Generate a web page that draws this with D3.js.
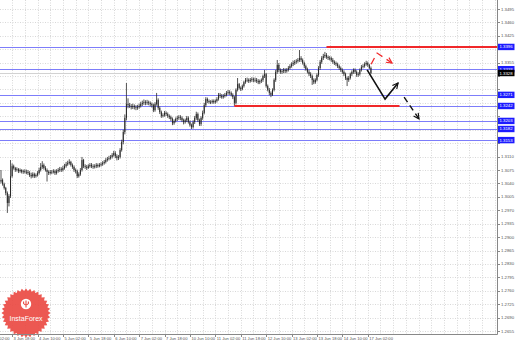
<!DOCTYPE html>
<html>
<head>
<meta charset="utf-8">
<script src="https://cdn.jsdelivr.net/npm/d3@7"></script>
<style>
  body { margin: 0; background: #fff; }
  svg { display: block; }
  text { font-family: "Liberation Sans", Arial, sans-serif; }
</style>
</head>
<body>
<script>
// H1 bars, 3 Jun 11:00 .. 17 Jun 04:00 (weekend skipped)
const firstOpen = 1.3045;
const closes = [
  1.3049,1.3038,1.3028,1.3015,1.2989,1.3007,1.3059,1.3085,1.3080,1.3075,1.3077,1.3072,1.3075,1.3070,1.3072,1.3070,
  1.3070,1.3067,1.3062,1.3059,1.3064,1.3059,1.3062,1.3067,1.3075,1.3083,1.3088,1.3080,1.3075,1.3070,1.3067,1.3070,
  1.3070,1.3072,1.3067,1.3072,1.3075,1.3077,1.3075,1.3080,1.3085,1.3090,1.3093,1.3096,1.3088,1.3083,1.3075,1.3072,
  1.3059,1.3064,1.3075,1.3101,1.3085,1.3083,1.3080,1.3085,1.3088,1.3085,1.3083,1.3085,1.3088,1.3085,1.3088,1.3090,
  1.3093,1.3096,1.3101,1.3104,1.3106,1.3109,1.3114,1.3119,1.3111,1.3106,1.3109,1.3127,1.3148,1.3174,1.3211,1.3247,
  1.3244,1.3242,1.3239,1.3242,1.3239,1.3237,1.3239,1.3242,1.3247,1.3250,1.3252,1.3250,1.3252,1.3250,1.3247,1.3244,
  1.3231,1.3247,1.3258,1.3237,1.3226,1.3216,1.3218,1.3224,1.3221,1.3216,1.3213,1.3208,1.3197,1.3203,1.3208,1.3211,
  1.3213,1.3211,1.3205,1.3200,1.3205,1.3211,1.3200,1.3192,1.3187,1.3200,1.3211,1.3221,1.3205,1.3195,1.3211,1.3224,
  1.3244,1.3260,1.3255,1.3252,1.3252,1.3255,1.3252,1.3255,1.3260,1.3271,1.3268,1.3265,1.3268,1.3271,1.3276,1.3278,
  1.3276,1.3271,1.3265,1.3250,1.3284,1.3299,1.3289,1.3286,1.3294,1.3304,1.3310,1.3310,1.3307,1.3310,1.3312,1.3310,
  1.3310,1.3307,1.3304,1.3307,1.3310,1.3320,1.3325,1.3294,1.3284,1.3276,1.3271,1.3284,1.3310,1.3331,1.3349,1.3336,
  1.3331,1.3333,1.3336,1.3333,1.3336,1.3341,1.3346,1.3351,1.3354,1.3357,1.3359,1.3362,1.3367,1.3362,1.3354,1.3346,
  1.3338,1.3331,1.3325,1.3320,1.3310,1.3304,1.3310,1.3323,1.3341,1.3357,1.3367,1.3372,1.3375,1.3370,1.3367,1.3367,
  1.3362,1.3357,1.3354,1.3351,1.3346,1.3341,1.3336,1.3331,1.3325,1.3315,1.3310,1.3315,1.3325,1.3331,1.3336,1.3331,
  1.3323,1.3325,1.3336,1.3344,1.3346,1.3351,1.3354,1.3349,1.3341,1.3328
];
const highs = [
  1.3075,1.3053,1.3042,1.3031,1.3019,1.3012,1.3101,1.3092,1.3089,1.3083,1.3082,1.3080,1.3079,1.3077,1.3076,1.3077,
  1.3076,1.3075,1.3072,1.3068,1.3069,1.3068,1.3066,1.3072,1.3081,1.3093,1.3098,1.3092,1.3085,1.3079,1.3074,1.3075,
  1.3075,1.3077,1.3076,1.3077,1.3080,1.3083,1.3082,1.3086,1.3091,1.3096,1.3099,1.3103,1.3099,1.3092,1.3087,1.3079,
  1.3076,1.3069,1.3080,1.3109,1.3104,1.3090,1.3088,1.3090,1.3093,1.3093,1.3090,1.3090,1.3093,1.3092,1.3093,1.3095,
  1.3098,1.3101,1.3106,1.3109,1.3112,1.3114,1.3119,1.3125,1.3124,1.3116,1.3114,1.3132,1.3154,1.3180,1.3220,1.3302,
  1.3262,1.3250,1.3247,1.3248,1.3246,1.3244,1.3245,1.3248,1.3253,1.3256,1.3259,1.3257,1.3258,1.3256,1.3254,1.3251,
  1.3248,1.3252,1.3276,1.3262,1.3241,1.3230,1.3223,1.3229,1.3228,1.3225,1.3220,1.3217,1.3212,1.3207,1.3212,1.3216,
  1.3218,1.3218,1.3215,1.3209,1.3209,1.3216,1.3215,1.3204,1.3196,1.3205,1.3216,1.3227,1.3225,1.3209,1.3215,1.3230,
  1.3250,1.3265,1.3264,1.3259,1.3257,1.3259,1.3259,1.3259,1.3265,1.3276,1.3276,1.3273,1.3273,1.3276,1.3281,1.3284,
  1.3283,1.3280,1.3275,1.3268,1.3288,1.3315,1.3302,1.3293,1.3298,1.3308,1.3315,1.3316,1.3314,1.3315,1.3317,1.3316,
  1.3316,1.3315,1.3312,1.3311,1.3314,1.3324,1.3336,1.3328,1.3298,1.3289,1.3280,1.3288,1.3314,1.3336,1.3362,1.3354,
  1.3340,1.3338,1.3341,1.3340,1.3341,1.3346,1.3351,1.3356,1.3360,1.3362,1.3364,1.3367,1.3388,1.3372,1.3366,1.3358,
  1.3350,1.3342,1.3336,1.3330,1.3324,1.3314,1.3314,1.3327,1.3346,1.3362,1.3372,1.3378,1.3383,1.3380,1.3374,1.3372,
  1.3371,1.3367,1.3361,1.3358,1.3355,1.3350,1.3345,1.3340,1.3335,1.3329,1.3319,1.3320,1.3329,1.3335,1.3340,1.3340,
  1.3335,1.3330,1.3340,1.3349,1.3351,1.3356,1.3360,1.3358,1.3352,1.3345
];
const lows = [
  1.3040,1.3034,1.3024,1.3009,1.2963,1.2980,1.3002,1.3055,1.3076,1.3070,1.3071,1.3067,1.3068,1.3066,1.3065,1.3066,
  1.3064,1.3062,1.3057,1.3053,1.3055,1.3054,1.3055,1.3058,1.3063,1.3071,1.3078,1.3076,1.3071,1.3045,1.3062,1.3063,
  1.3064,1.3066,1.3062,1.3063,1.3068,1.3070,1.3070,1.3071,1.3076,1.3081,1.3086,1.3089,1.3084,1.3078,1.3070,1.3066,
  1.3054,1.3055,1.3060,1.3071,1.3080,1.3078,1.3075,1.3078,1.3081,1.3080,1.3078,1.3079,1.3080,1.3081,1.3082,1.3084,
  1.3086,1.3089,1.3092,1.3097,1.3100,1.3102,1.3105,1.3110,1.3106,1.3100,1.3101,1.3105,1.3123,1.3142,1.3168,1.3205,
  1.3236,1.3237,1.3233,1.3234,1.3233,1.3231,1.3232,1.3235,1.3238,1.3242,1.3245,1.3244,1.3245,1.3244,1.3241,1.3238,
  1.3226,1.3227,1.3243,1.3232,1.3221,1.3211,1.3212,1.3214,1.3216,1.3211,1.3208,1.3203,1.3192,1.3193,1.3199,1.3203,
  1.3206,1.3205,1.3200,1.3194,1.3196,1.3200,1.3196,1.3188,1.3182,1.3183,1.3195,1.3206,1.3200,1.3190,1.3190,1.3206,
  1.3220,1.3239,1.3250,1.3248,1.3247,1.3248,1.3248,1.3248,1.3251,1.3256,1.3263,1.3261,1.3261,1.3264,1.3267,1.3271,
  1.3271,1.3267,1.3260,1.3242,1.3246,1.3280,1.3285,1.3281,1.3283,1.3290,1.3300,1.3304,1.3302,1.3303,1.3305,1.3304,
  1.3304,1.3302,1.3299,1.3299,1.3302,1.3305,1.3315,1.3290,1.3280,1.3270,1.3265,1.3268,1.3280,1.3305,1.3326,1.3330,
  1.3326,1.3326,1.3328,1.3328,1.3329,1.3332,1.3337,1.3342,1.3346,1.3349,1.3352,1.3355,1.3357,1.3357,1.3350,1.3341,
  1.3334,1.3327,1.3320,1.3315,1.3297,1.3299,1.3300,1.3306,1.3318,1.3336,1.3352,1.3362,1.3367,1.3365,1.3362,1.3361,
  1.3357,1.3352,1.3349,1.3346,1.3341,1.3336,1.3331,1.3326,1.3320,1.3310,1.3294,1.3305,1.3311,1.3320,1.3326,1.3326,
  1.3318,1.3318,1.3321,1.3332,1.3340,1.3342,1.3347,1.3344,1.3338,1.3325
];

const timeLabels = ["3 Jun 02:00","3 Jun 18:00","4 Jun 10:00","5 Jun 02:00","5 Jun 18:00","6 Jun 10:00",
  "7 Jun 02:00","7 Jun 18:00","10 Jun 10:00","11 Jun 02:00","11 Jun 18:00","12 Jun 10:00",
  "13 Jun 02:00","13 Jun 18:00","14 Jun 10:00","17 Jun 02:00"];
const timeLabelBars = [-9,7,23,39,55,71,87,103,119,135,151,167,183,199,215,231];

const priceTicks = [1.3495,1.3460,1.3425,1.3390,1.3355,1.3320,1.3285,1.3250,1.3215,1.3180,1.3145,1.3110,
  1.3075,1.3040,1.3005,1.2970,1.2935,1.2900,1.2865,1.2830,1.2795,1.2760,1.2725,1.2690,1.2655];

// horizontal support / resistance levels
const blueLevels = [1.3396, 1.3338, 1.3271, 1.3242, 1.3203, 1.3182, 1.3153];
const bidPrice = 1.3328;
const redLines = [
  { from: 205, to: 320, price: 1.3396 },
  { from: 147, to: 251, price: 1.3242 }
];
// forecast arrows [bar, price]
const redArrow = [[233.1, 1.3351], [236.9, 1.3380], [246.3, 1.3354]];
const blackArrow = [[230.6, 1.3336], [241.9, 1.3260], [250.1, 1.3302]];
const blackDashArrow = [[253.9, 1.3265], [263.3, 1.3208]];

const W = 518, H = 342;
const plotR = 497, plotB = 334;

const svg = d3.select("body").append("svg").attr("width", W).attr("height", H);
svg.append("rect").attr("width", W).attr("height", H).attr("fill", "#fff");

const x = d3.scaleLinear().domain([-0.63, 312.4]).range([0, plotR]);
const y = d3.scaleLinear().domain([1.2655, 1.3495]).range([331, 9]);
const snap = v => Math.round(v) + 0.5;

// grid
const grid = svg.append("g").attr("stroke", "#d8d8d8").attr("stroke-dasharray", "1,1.5").attr("stroke-width", 1);
grid.selectAll(".vg").data(d3.range(-1, 312, 8)).enter().append("line")
  .attr("x1", d => snap(x(d))).attr("x2", d => snap(x(d)))
  .attr("y1", 0).attr("y2", plotB);
grid.selectAll(".hg").data(priceTicks).enter().append("line")
  .attr("x1", 0).attr("x2", plotR)
  .attr("y1", d => snap(y(d))).attr("y2", d => snap(y(d)));

// logo watermark
const logo = svg.append("g").attr("transform", "translate(26,313)");
const star = d3.range(72).map(k => {
  const a = k * Math.PI / 36, r = k % 2 ? 22 : 24.5;
  return [r * Math.sin(a), -r * Math.cos(a)];
});
logo.append("path").attr("d", "M" + star.join("L") + "Z").attr("fill", "#ea4a43").attr("opacity", 0.92);
logo.append("circle").attr("cx", 0).attr("cy", -9).attr("r", 5.2).attr("fill", "#fff");
logo.append("path").attr("d", "M-2.4,-11.5 L-2.4,-9.5 Q0,-6.5 2.4,-9.5 L2.4,-11.5 M0,-12.5 L0,-5.5")
  .attr("stroke", "#ea4a43").attr("stroke-width", 1.1).attr("fill", "none");
logo.append("text").attr("x", 0).attr("y", 8).attr("text-anchor", "middle")
  .attr("font-size", 7).attr("fill", "#fff").text("InstaForex");

// levels
svg.selectAll(".lvl").data(blueLevels).enter().append("line")
  .attr("x1", 0).attr("x2", plotR)
  .attr("y1", d => snap(y(d))).attr("y2", d => snap(y(d)))
  .attr("stroke", "#7d7dfa").attr("stroke-width", 1.2);
svg.append("line").attr("x1", 0).attr("x2", plotR)
  .attr("y1", snap(y(bidPrice))).attr("y2", snap(y(bidPrice)))
  .attr("stroke", "#d2d2d2").attr("stroke-width", 1);

// candles
const bars = closes.map((c, i) => ({
  i, c, h: highs[i], l: lows[i], o: i ? closes[i - 1] : firstOpen
}));
const cg = svg.append("g");
cg.selectAll(".wick").data(bars).enter().append("line")
  .attr("x1", d => x(d.i)).attr("x2", d => x(d.i))
  .attr("y1", d => y(d.h)).attr("y2", d => y(d.l))
  .attr("stroke", "#2a2a2a").attr("stroke-width", 0.8);
cg.selectAll(".body").data(bars).enter().append("rect")
  .attr("x", d => x(d.i) - 0.5).attr("width", 1)
  .attr("y", d => y(Math.max(d.o, d.c)))
  .attr("height", d => Math.max(0.6, Math.abs(y(d.o) - y(d.c))))
  .attr("fill", "#2a2a2a");

// red lines
svg.selectAll(".red").data(redLines).enter().append("line")
  .attr("x1", d => x(d.from)).attr("x2", d => Math.min(plotR, x(d.to)))
  .attr("y1", d => y(d.price)).attr("y2", d => y(d.price))
  .attr("stroke", "#f0282a").attr("stroke-width", 2);

// arrow markers
const defs = svg.append("defs");
[["headRed", "#f0282a"], ["headBlack", "#111"]].forEach(([id, col]) => {
  defs.append("marker").attr("id", id).attr("viewBox", "0 0 10 10")
    .attr("refX", 9).attr("refY", 5).attr("markerWidth", 7).attr("markerHeight", 7)
    .attr("markerUnits", "userSpaceOnUse").attr("orient", "auto")
    .append("path").attr("d", "M1,1 L9,5 L1,9").attr("fill", "none")
    .attr("stroke", col).attr("stroke-width", 1.6);
});
const line = d3.line().x(d => x(d[0])).y(d => y(d[1]));
svg.append("path").attr("d", line(redArrow)).attr("fill", "none").attr("stroke", "#f0282a")
  .attr("stroke-width", 1.3).attr("stroke-dasharray", "7,5").attr("marker-end", "url(#headRed)");
svg.append("path").attr("d", line(blackArrow)).attr("fill", "none").attr("stroke", "#111")
  .attr("stroke-width", 1.6).attr("marker-end", "url(#headBlack)");
svg.append("path").attr("d", line(blackDashArrow)).attr("fill", "none").attr("stroke", "#111")
  .attr("stroke-width", 1.4).attr("stroke-dasharray", "6,4").attr("marker-end", "url(#headBlack)");

// axes
svg.append("line").attr("x1", 0).attr("x2", plotR + 0.5).attr("y1", plotB + 0.5).attr("y2", plotB + 0.5)
  .attr("stroke", "#888");
svg.append("line").attr("x1", plotR + 0.5).attr("x2", plotR + 0.5).attr("y1", 0).attr("y2", plotB + 0.5)
  .attr("stroke", "#888");

// price tags on the right
const tags = blueLevels.map(p => ({ p, fill: "#1c1cff" })).concat([{ p: bidPrice, fill: "#000" }]);

const fmt = d3.format(".4f");
const py = svg.append("g");
py.selectAll(".pt").data(priceTicks).enter().append("line")
  .attr("x1", plotR).attr("x2", plotR + 3)
  .attr("y1", d => snap(y(d))).attr("y2", d => snap(y(d))).attr("stroke", "#888");
// tick labels hidden where a price tag covers them
py.selectAll(".pl").data(priceTicks.filter(p => tags.every(t => Math.abs(y(t.p) - y(p)) > 5.5)))
  .enter().append("text")
  .attr("x", plotR + 4).attr("y", d => y(d) + 1.5)
  .attr("font-size", 4.3).attr("fill", "#555").text(fmt);

const tx = svg.append("g");
tx.selectAll(".tt").data(timeLabelBars).enter().append("line")
  .attr("x1", d => snap(x(d))).attr("x2", d => snap(x(d)))
  .attr("y1", plotB).attr("y2", plotB + 3).attr("stroke", "#888");
tx.selectAll(".tl").data(timeLabels).enter().append("text")
  .attr("x", (d, k) => x(timeLabelBars[k]) + 1.5).attr("y", plotB + 5.5)
  .attr("font-size", 4.1).attr("fill", "#555").text(d => d);

const tg = svg.selectAll(".tag").data(tags).enter().append("g")
  .attr("transform", d => `translate(${plotR + 1},${y(d.p)})`);
tg.append("rect").attr("x", 0).attr("y", -3.2).attr("width", 16.5).attr("height", 6.4).attr("fill", d => d.fill);
tg.append("text").attr("x", 1.5).attr("y", 1.5).attr("font-size", 4.3).attr("fill", "#fff").text(d => fmt(d.p));
</script>
</body>
</html>
